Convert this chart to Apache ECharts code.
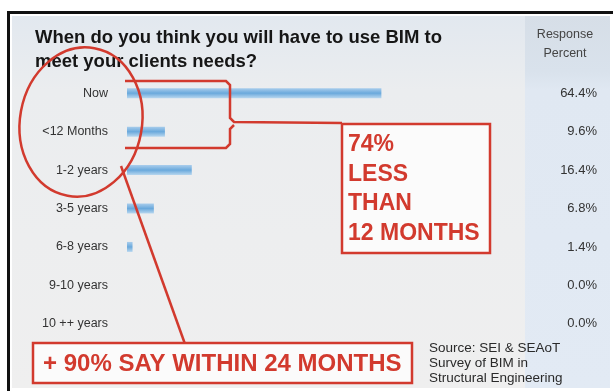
<!DOCTYPE html>
<html lang="en">
<head>
	<meta charset="UTF-8">
	<title>When do you think you will have to use BIM</title>
	<style type="text/css">
		html, body { margin: 0; padding: 0; background: #fff; }
		#main { width: 615px; height: 391px; }
	</style>
</head>
<body>
	<div id="main"></div>
	<script type="text/javascript" src="https://cdn.jsdelivr.net/npm/echarts@6/dist/echarts.min.js"></script>
	<script type="text/javascript">
		// survey answers, top to bottom
		var categories = ['Now', '<12 Months', '1-2 years', '3-5 years', '6-8 years', '9-10 years', '10 ++ years'];
		var responsePercent = [64.4, 9.6, 16.4, 6.8, 1.4, 0.0, 0.0];
		var titleLines = ['When do you think you will have to use BIM to', 'meet your clients needs?'];
		var sourceLines = ['Source: SEI & SEAoT', 'Survey of BIM in', 'Structural Engineering'];

		var RED = '#d23a2e';
		var FONT = 'Liberation Sans, Arial, sans-serif';

		var chart = echarts.init(document.getElementById('main'));

		var barColor = new echarts.graphic.LinearGradient(0, 0, 0, 1, [
			{offset: 0, color: '#a9cdec'},
			{offset: 0.5, color: '#6aa9dc'},
			{offset: 1, color: '#b8d7ef'}
		]);

		var graphics = [
			// frame (top and left edges) and panel
			{type: 'rect', z: -10, shape: {x: 7, y: 11, width: 606, height: 3}, style: {fill: '#111'}},
			{type: 'rect', z: -10, shape: {x: 7, y: 11, width: 3, height: 380}, style: {fill: '#111'}},
			{type: 'rect', z: -8, shape: {x: 12, y: 16, width: 598, height: 372}, style: {
				fill: new echarts.graphic.LinearGradient(0, 0, 0, 1, [
					{offset: 0, color: '#e2e8ef'},
					{offset: 0.2, color: '#ebedef'},
					{offset: 1, color: '#efefef'}
				])
			}},
			// response percent column
			{type: 'rect', z: -7, shape: {x: 525, y: 16, width: 85, height: 372}, style: {
				fill: new echarts.graphic.LinearGradient(0, 0, 0, 1, [
					{offset: 0, color: '#d6dee7'},
					{offset: 0.15, color: '#d9e2ec'},
					{offset: 0.2, color: '#e0e8f2'},
					{offset: 1, color: '#e2eaf4'}
				])
			}},
			{type: 'text', z: 5, style: {text: 'Response', x: 565, y: 35, fill: '#444', font: '12.5px ' + FONT, textAlign: 'center', textVerticalAlign: 'middle'}},
			{type: 'text', z: 5, style: {text: 'Percent', x: 565, y: 54, fill: '#444', font: '12.5px ' + FONT, textAlign: 'center', textVerticalAlign: 'middle'}},

			// red annotations
			{type: 'ellipse', z: 100, x: 81, y: 122, rotation: -0.18,
				shape: {cx: 0, cy: 0, rx: 61, ry: 75},
				style: {fill: null, stroke: RED, lineWidth: 2.5}},
			{type: 'polyline', z: 100,
				shape: {points: [[125, 81], [226, 81], [230, 85], [230, 118], [234, 122], [342, 123]]},
				style: {fill: null, stroke: RED, lineWidth: 2.5}},
			{type: 'polyline', z: 100,
				shape: {points: [[234, 125], [230, 129], [230, 144], [226, 148], [125, 148]]},
				style: {fill: null, stroke: RED, lineWidth: 2.5}},
			{type: 'line', z: 100, shape: {x1: 121, y1: 166, x2: 185, y2: 344}, style: {stroke: RED, lineWidth: 2.5}},

			{type: 'rect', z: 100, shape: {x: 342, y: 124, width: 148, height: 129}, style: {fill: '#fbfbfb', stroke: RED, lineWidth: 2.5}},
			{type: 'text', z: 101, style: {text: '74%\nLESS\nTHAN\n12 MONTHS', x: 348, y: 130, fill: RED, font: 'bold 23px ' + FONT, lineHeight: 29.5}},

			{type: 'rect', z: 100, shape: {x: 33, y: 343, width: 379, height: 40}, style: {fill: '#fbfbfb', stroke: RED, lineWidth: 2.5}},
			{type: 'text', z: 101, style: {text: '+ 90% SAY WITHIN 24 MONTHS', x: 43, y: 364, fill: RED, font: 'bold 24px ' + FONT, textVerticalAlign: 'middle'}}
		];

		for (var i = 0; i < sourceLines.length; i++) {
			graphics.push({type: 'text', z: 5, style: {
				text: sourceLines[i], x: 429, y: 348 + i * 15, fill: '#2a2a2a',
				font: '13.5px ' + FONT, textVerticalAlign: 'middle'
			}});
		}

		var option = {
			animation: false,
			title: {
				text: titleLines.join('\n'),
				left: 35,
				top: 26,
				padding: 0,
				textStyle: {
					fontFamily: FONT,
					fontSize: 18.5,
					fontWeight: 'bold',
					color: '#161616',
					lineHeight: 24
				}
			},
			grid: {
				left: 127,
				top: 74,
				width: 395,
				height: 269
			},
			xAxis: {
				type: 'value',
				min: 0,
				max: 100,
				show: false
			},
			yAxis: [
				{
					type: 'category',
					data: categories,
					inverse: true,
					axisLine: {show: false},
					axisTick: {show: false},
					axisLabel: {
						margin: 19,
						color: '#333',
						fontFamily: FONT,
						fontSize: 12.5
					}
				},
				{
					type: 'category',
					position: 'right',
					data: categories,
					inverse: true,
					axisLine: {show: false},
					axisTick: {show: false},
					axisLabel: {
						margin: 75,
						align: 'right',
						color: '#333',
						fontFamily: FONT,
						fontSize: 13,
						formatter: function (value, idx) {
							return responsePercent[idx].toFixed(1) + '%';
						}
					}
				}
			],
			graphic: {elements: graphics},
			series: [
				{
					type: 'bar',
					data: responsePercent,
					barWidth: 10,
					itemStyle: {
						color: barColor
					}
				}
			]
		};

		chart.setOption(option);
	</script>
</body>
</html>
